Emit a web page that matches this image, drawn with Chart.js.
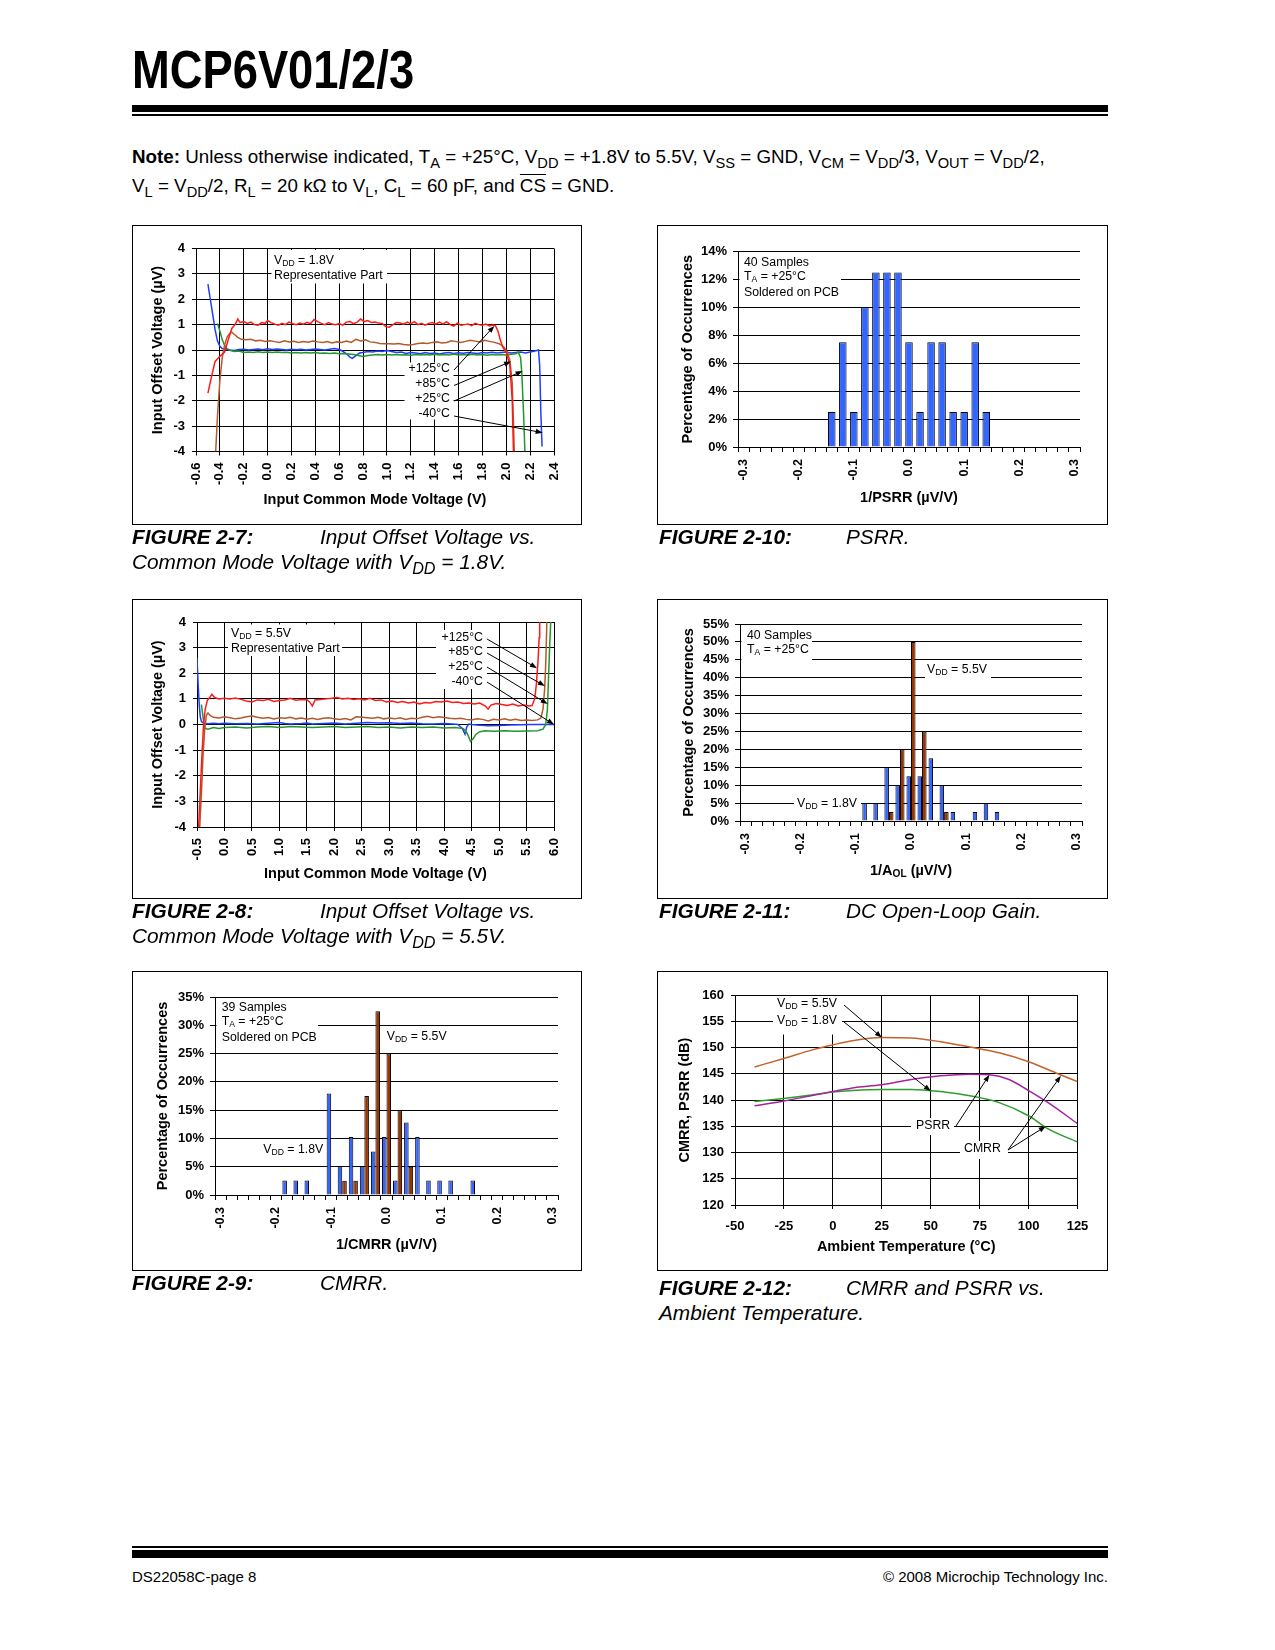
<!DOCTYPE html>
<html>
<head>
<meta charset="utf-8">
<script src="https://cdn.jsdelivr.net/npm/chart.js@4.4.1/dist/chart.umd.min.js"></script>
<style>
  body { margin: 0; background: #fff; font-family: "Liberation Sans", Arial, Helvetica, sans-serif; color: #000; }
  #page { position: relative; width: 1275px; height: 1650px; overflow: hidden; }
  .title { position: absolute; left: 132px; top: 43px; font-size: 53px; font-weight: bold; line-height: 53px; transform: scaleX(0.855); transform-origin: 0 0; white-space: nowrap; }
  .rule { position: absolute; left: 132px; width: 976px; background: #000; }
  .note { position: absolute; left: 132px; top: 142px; font-size: 18.8px; line-height: 29px; white-space: nowrap; }
  .note sub, .cap sub { font-size: 0.78em; vertical-align: -0.32em; line-height: 0; }
  .ov { text-decoration: overline; }
  .box { position: absolute; border: 1px solid #000; box-sizing: border-box; }
  .box canvas { position: absolute; left: -1px; top: -1px; }
  .cap { position: absolute; font-size: 20.8px; font-style: italic; line-height: 25px; white-space: nowrap; }
  .cap b { font-weight: bold; }
  .foot { position: absolute; top: 1568px; font-size: 15px; line-height: 18px; white-space: nowrap; }
</style>
</head>
<body>
<div id="page">
  <div class="title">MCP6V01/2/3</div>
  <div class="rule" style="top:105px;height:7px"></div>
  <div class="rule" style="top:114px;height:2px"></div>

  <div class="note"><b>Note:</b> Unless otherwise indicated, T<sub>A</sub> = +25°C, V<sub>DD</sub> = +1.8V to 5.5V, V<sub>SS</sub> = GND, V<sub>CM</sub> = V<sub>DD</sub>/3, V<sub>OUT</sub> = V<sub>DD</sub>/2,<br>V<sub>L</sub> = V<sub>DD</sub>/2, R<sub>L</sub> = 20 kΩ to V<sub>L</sub>, C<sub>L</sub> = 60 pF, and <span class="ov">CS</span> = GND.</div>

  <div class="box" style="left:132px;top:225px;width:450px;height:300px"><canvas id="fig7" width="450" height="300"></canvas></div>
  <div class="box" style="left:657px;top:225px;width:451px;height:300px"><canvas id="fig10" width="451" height="300"></canvas></div>
  <div class="box" style="left:132px;top:599px;width:450px;height:300px"><canvas id="fig8" width="450" height="300"></canvas></div>
  <div class="box" style="left:657px;top:599px;width:451px;height:300px"><canvas id="fig11" width="451" height="300"></canvas></div>
  <div class="box" style="left:132px;top:971px;width:450px;height:300px"><canvas id="fig9" width="450" height="300"></canvas></div>
  <div class="box" style="left:657px;top:971px;width:451px;height:300px"><canvas id="fig12" width="451" height="300"></canvas></div>

  <div class="cap" style="left:132px;top:524px"><b>FIGURE 2-7:</b></div>
  <div class="cap" style="left:320px;top:524px">Input Offset Voltage vs.</div>
  <div class="cap" style="left:132px;top:549px">Common Mode Voltage with V<sub>DD</sub> = 1.8V.</div>
  <div class="cap" style="left:659px;top:524px"><b>FIGURE 2-10:</b></div>
  <div class="cap" style="left:846px;top:524px">PSRR.</div>

  <div class="cap" style="left:132px;top:898px"><b>FIGURE 2-8:</b></div>
  <div class="cap" style="left:320px;top:898px">Input Offset Voltage vs.</div>
  <div class="cap" style="left:132px;top:923px">Common Mode Voltage with V<sub>DD</sub> = 5.5V.</div>
  <div class="cap" style="left:659px;top:898px"><b>FIGURE 2-11:</b></div>
  <div class="cap" style="left:846px;top:898px">DC Open-Loop Gain.</div>

  <div class="cap" style="left:132px;top:1270px"><b>FIGURE 2-9:</b></div>
  <div class="cap" style="left:320px;top:1270px">CMRR.</div>
  <div class="cap" style="left:659px;top:1275px"><b>FIGURE 2-12:</b></div>
  <div class="cap" style="left:846px;top:1275px">CMRR and PSRR vs.</div>
  <div class="cap" style="left:659px;top:1300px">Ambient Temperature.</div>

  <div class="rule" style="top:1546px;height:2px"></div>
  <div class="rule" style="top:1550px;height:8px"></div>
  <div class="foot" style="left:132px">DS22058C-page 8</div>
  <div class="foot" style="right:167px">© 2008 Microchip Technology Inc.</div>
</div>

<script>
// ---- Figure 2-7: offset vs common mode, VDD = 1.8V  [x (V), y (µV)]
const f7Red = [[-0.50,-1.70],[-0.47,-1.05],[-0.44,-0.45],[-0.40,-0.25],[-0.36,-0.08],[-0.33,0.40],[-0.30,0.85],[-0.27,1.02],[-0.25,1.22],[-0.23,1.08],
  [-0.20,1.12],[-0.17,1.05],[-0.14,1.10],[-0.11,1.00],[-0.08,0.98],[-0.05,1.08],[-0.02,1.05],[0.00,1.16],[0.03,1.08],[0.06,1.02],
  [0.09,0.98],[0.12,1.05],[0.15,1.00],[0.18,1.10],[0.21,1.04],[0.24,1.00],[0.27,1.06],[0.30,1.02],[0.33,1.09],[0.36,1.04],
  [0.39,1.20],[0.42,1.12],[0.45,1.05],[0.48,1.00],[0.51,1.08],[0.54,1.02],[0.57,1.00],[0.60,1.04],[0.63,0.98],[0.66,1.10],
  [0.69,1.12],[0.72,1.04],[0.75,1.10],[0.78,1.22],[0.81,1.12],[0.84,1.16],[0.87,1.08],[0.90,1.10],[0.93,1.06],[0.96,1.05],
  [0.99,0.92],[1.02,0.90],[1.05,1.00],[1.08,1.08],[1.11,1.06],[1.14,1.02],[1.17,1.10],[1.20,1.04],[1.23,1.12],[1.26,1.00],
  [1.29,1.05],[1.32,0.98],[1.35,1.05],[1.38,1.08],[1.41,1.02],[1.44,1.10],[1.47,1.02],[1.50,1.12],[1.53,1.00],[1.56,0.94],
  [1.59,1.06],[1.62,0.98],[1.65,1.00],[1.68,1.02],[1.71,0.96],[1.74,1.05],[1.77,1.00],[1.80,0.98],[1.83,1.02],[1.86,0.95],
  [1.89,0.98],[1.91,0.95],[1.93,0.75],[1.95,0.40],[1.97,0.12],[2.00,-0.10],[2.03,-0.60],[2.05,-2.00],[2.06,-4.00]];
const f7Brown = [[-0.435,-4.0],[-0.42,-2.6],[-0.40,-1.2],[-0.38,-0.3],[-0.36,0.2],[-0.34,0.5],[-0.32,0.64],[-0.30,0.70],[-0.28,0.62],[-0.25,0.50],
  [-0.22,0.42],[-0.18,0.40],[-0.14,0.42],[-0.10,0.36],[-0.06,0.38],[-0.02,0.34],[0.02,0.36],[0.06,0.33],[0.10,0.30],[0.14,0.36],
  [0.18,0.32],[0.22,0.34],[0.26,0.30],[0.30,0.33],[0.34,0.31],[0.38,0.35],[0.42,0.32],[0.46,0.30],[0.50,0.33],[0.54,0.28],
  [0.58,0.32],[0.62,0.30],[0.66,0.35],[0.70,0.30],[0.74,0.42],[0.78,0.36],[0.82,0.40],[0.86,0.32],[0.90,0.30],[0.94,0.26],
  [0.98,0.25],[1.02,0.25],[1.06,0.24],[1.10,0.26],[1.14,0.22],[1.18,0.20],[1.22,0.22],[1.26,0.26],[1.30,0.28],[1.34,0.26],
  [1.38,0.30],[1.42,0.32],[1.46,0.28],[1.50,0.30],[1.54,0.36],[1.58,0.33],[1.62,0.30],[1.66,0.34],[1.70,0.38],[1.74,0.35],
  [1.78,0.32],[1.82,0.38],[1.86,0.34],[1.90,0.30],[1.94,0.25],[1.98,0.12],[2.01,-0.10],[2.03,-0.40],[2.05,-1.30],[2.06,-2.80],[2.067,-4.0]];
const f7Green = [[-0.42,1.05],[-0.40,0.75],[-0.38,0.40],[-0.36,0.18],[-0.34,0.05],[-0.31,-0.02],[-0.28,-0.06],[-0.24,-0.04],[-0.20,-0.10],[-0.16,-0.08],
  [-0.12,-0.10],[-0.08,-0.07],[-0.04,-0.10],[0.00,-0.08],[0.04,-0.10],[0.08,-0.08],[0.12,-0.10],[0.16,-0.09],[0.20,-0.12],[0.24,-0.10],
  [0.28,-0.12],[0.32,-0.10],[0.36,-0.12],[0.40,-0.10],[0.44,-0.13],[0.48,-0.12],[0.52,-0.14],[0.56,-0.12],[0.60,-0.15],[0.64,-0.14],
  [0.68,-0.16],[0.72,-0.18],[0.76,-0.22],[0.80,-0.26],[0.84,-0.22],[0.88,-0.20],[0.92,-0.18],[0.96,-0.20],[1.00,-0.18],[1.04,-0.20],
  [1.08,-0.18],[1.12,-0.20],[1.16,-0.19],[1.20,-0.21],[1.24,-0.18],[1.28,-0.20],[1.32,-0.18],[1.36,-0.20],[1.40,-0.17],[1.44,-0.20],
  [1.48,-0.18],[1.52,-0.20],[1.56,-0.16],[1.60,-0.20],[1.64,-0.18],[1.68,-0.20],[1.72,-0.17],[1.76,-0.20],[1.80,-0.18],[1.84,-0.21],
  [1.88,-0.18],[1.92,-0.20],[1.96,-0.18],[2.00,-0.20],[2.04,-0.17],[2.08,-0.15],[2.10,-0.08],[2.12,-0.30],[2.13,-0.90],[2.145,-2.50],[2.156,-4.0]];
const f7Blue = [[-0.50,2.60],[-0.48,2.00],[-0.46,1.40],[-0.44,0.80],[-0.42,0.35],[-0.40,0.15],[-0.38,0.06],[-0.35,0.02],[-0.32,0.00],[-0.28,-0.02],
  [-0.24,0.02],[-0.20,0.03],[-0.16,0.00],[-0.12,0.02],[-0.08,0.04],[-0.04,0.01],[0.00,0.05],[0.04,0.02],[0.08,0.04],[0.12,0.02],
  [0.16,0.00],[0.20,0.03],[0.24,0.01],[0.28,0.03],[0.32,0.00],[0.36,0.02],[0.40,0.04],[0.44,0.02],[0.48,0.00],[0.52,0.03],
  [0.56,0.06],[0.60,0.02],[0.63,-0.05],[0.66,-0.15],[0.69,-0.28],[0.71,-0.33],[0.74,-0.22],[0.77,-0.12],[0.80,-0.10],[0.84,-0.06],
  [0.88,-0.08],[0.92,-0.04],[0.96,-0.06],[1.00,-0.02],[1.04,-0.06],[1.08,-0.10],[1.12,-0.08],[1.16,-0.14],[1.20,-0.10],[1.24,-0.12],
  [1.28,-0.15],[1.32,-0.10],[1.36,-0.14],[1.40,-0.12],[1.44,-0.16],[1.48,-0.12],[1.52,-0.10],[1.56,-0.14],[1.60,-0.11],[1.64,-0.13],
  [1.68,-0.10],[1.72,-0.12],[1.76,-0.14],[1.80,-0.10],[1.84,-0.12],[1.88,-0.09],[1.92,-0.12],[1.96,-0.10],[2.00,-0.08],[2.04,-0.12],
  [2.08,-0.10],[2.12,-0.08],[2.16,-0.12],[2.20,-0.08],[2.24,-0.04],[2.27,0.00],[2.28,-0.60],[2.29,-2.50],[2.30,-3.80]];

// ---- Figure 2-8: offset vs common mode, VDD = 5.5V
const f8Red = [[-0.47,-4.0],[-0.44,-2.6],[-0.41,-1.2],[-0.38,0.0],[-0.35,0.6],[-0.31,0.95],[-0.27,1.05],[-0.23,1.18],[-0.18,1.05],[-0.10,1.00],
  [0.00,1.02],[0.10,1.00],[0.20,1.03],[0.30,0.98],[0.40,0.92],[0.50,0.88],[0.60,0.96],[0.70,0.94],[0.80,0.98],[0.90,0.90],
  [1.00,0.94],[1.10,0.96],[1.20,1.02],[1.30,0.95],[1.40,0.98],[1.50,0.97],[1.55,0.88],[1.60,0.72],[1.65,0.96],[1.75,0.98],
  [1.85,1.00],[1.95,1.02],[2.05,1.05],[2.15,1.00],[2.25,1.02],[2.35,0.98],[2.45,1.00],[2.55,0.96],[2.65,1.02],[2.75,0.94],
  [2.85,0.96],[2.95,0.88],[3.05,0.92],[3.15,0.86],[3.25,0.90],[3.35,0.84],[3.45,0.88],[3.55,0.80],[3.65,0.86],[3.75,0.84],
  [3.85,0.90],[3.95,0.88],[4.05,0.92],[4.15,0.86],[4.25,0.88],[4.35,0.82],[4.45,0.84],[4.55,0.80],[4.65,0.84],[4.75,0.72],
  [4.80,0.60],[4.85,0.76],[4.95,0.82],[5.05,0.78],[5.15,0.74],[5.25,0.80],[5.35,0.72],[5.45,0.76],[5.55,0.72],[5.60,0.74],
  [5.65,1.00],[5.68,1.60],[5.71,2.50],[5.73,3.40],[5.74,4.0]];
const f8Brown = [[-0.45,-4.0],[-0.42,-2.7],[-0.39,-1.2],[-0.36,-0.2],[-0.33,0.35],[-0.30,0.45],[-0.26,0.35],[-0.20,0.28],[-0.10,0.25],[0.00,0.30],
  [0.10,0.26],[0.20,0.22],[0.30,0.25],[0.40,0.30],[0.50,0.33],[0.60,0.28],[0.70,0.24],[0.80,0.27],[0.90,0.22],[1.00,0.26],
  [1.10,0.24],[1.20,0.28],[1.30,0.22],[1.40,0.25],[1.50,0.21],[1.60,0.24],[1.70,0.20],[1.80,0.24],[1.90,0.26],[2.00,0.22],
  [2.10,0.20],[2.20,0.23],[2.30,0.18],[2.40,0.30],[2.50,0.28],[2.60,0.26],[2.70,0.24],[2.80,0.28],[2.90,0.22],[3.00,0.25],
  [3.10,0.22],[3.20,0.26],[3.30,0.20],[3.40,0.24],[3.50,0.22],[3.60,0.28],[3.70,0.32],[3.80,0.26],[3.90,0.30],[4.00,0.27],
  [4.10,0.24],[4.20,0.22],[4.30,0.24],[4.40,0.20],[4.50,0.18],[4.60,0.22],[4.70,0.20],[4.80,0.14],[4.90,0.20],[5.00,0.18],
  [5.10,0.22],[5.20,0.17],[5.30,0.20],[5.40,0.16],[5.50,0.18],[5.60,0.16],[5.70,0.18],[5.76,0.25],[5.80,0.60],[5.83,1.40],
  [5.85,2.40],[5.87,4.0]];
const f8Green = [[-0.42,0.78],[-0.39,0.30],[-0.37,0.00],[-0.35,-0.15],[-0.30,-0.18],[-0.20,-0.12],[-0.10,-0.16],[0.00,-0.12],[0.20,-0.10],[0.40,-0.14],
  [0.60,-0.10],[0.80,-0.08],[1.00,-0.12],[1.20,-0.08],[1.40,-0.10],[1.60,-0.12],[1.80,-0.10],[2.00,-0.08],[2.20,-0.12],[2.40,-0.10],
  [2.60,-0.08],[2.80,-0.12],[3.00,-0.10],[3.20,-0.14],[3.40,-0.10],[3.60,-0.12],[3.80,-0.10],[4.00,-0.14],[4.20,-0.12],[4.35,-0.16],
  [4.42,-0.35],[4.48,-0.66],[4.53,-0.55],[4.58,-0.38],[4.65,-0.28],[4.75,-0.24],[4.90,-0.26],[5.10,-0.24],[5.30,-0.26],[5.50,-0.25],
  [5.70,-0.24],[5.80,-0.18],[5.85,0.00],[5.88,0.60],[5.90,1.80],[5.92,3.00],[5.94,4.0]];
const f8Blue = [[-0.50,2.60],[-0.48,1.60],[-0.46,0.80],[-0.44,0.30],[-0.42,0.12],[-0.38,0.05],[-0.30,0.03],[-0.20,0.05],[-0.10,0.03],[0.00,0.05],
  [0.20,0.03],[0.40,0.04],[0.60,0.02],[0.80,0.05],[1.00,0.08],[1.10,0.04],[1.20,0.02],[1.40,0.04],[1.50,0.06],[1.60,0.02],
  [1.80,0.04],[2.00,0.06],[2.20,0.02],[2.40,0.05],[2.60,0.08],[2.80,0.06],[3.00,0.07],[3.20,0.04],[3.40,0.06],[3.60,0.03],
  [3.80,0.02],[4.00,0.04],[4.15,0.02],[4.25,0.00],[4.33,-0.15],[4.38,-0.38],[4.41,-0.10],[4.45,0.02],[4.50,0.00],[4.60,-0.02],
  [4.80,-0.05],[5.00,-0.04],[5.20,-0.02],[5.40,-0.01],[5.60,0.00],[5.80,0.00],[6.00,0.00]];

// ---- Histograms: bin centres (µV/V) and tick labels
const binCenters = [-0.30,-0.28,-0.26,-0.24,-0.22,-0.20,-0.18,-0.16,-0.14,-0.12,-0.10,-0.08,-0.06,-0.04,-0.02,0.00,
  0.02,0.04,0.06,0.08,0.10,0.12,0.14,0.16,0.18,0.20,0.22,0.24,0.26,0.28,0.30];
const histTickLabels = ['-0.3', '-0.2', '-0.1', '0.0', '0.1', '0.2', '0.3'];

// Figure 2-10 PSRR (40 samples)
const psrrBins = [-0.14,-0.12,-0.10,-0.08,-0.06,-0.04,-0.02,0.00,0.02,0.04,0.06,0.08,0.10,0.12,0.14];
const psrrPct  = [2.5, 7.5, 2.5, 10, 12.5, 12.5, 12.5, 7.5, 2.5, 7.5, 7.5, 2.5, 2.5, 7.5, 2.5];

// Figure 2-11 DC open-loop gain
const aolBins18 = [-0.08,-0.06,-0.04,-0.02,0.00,0.02,0.04,0.06,0.08,0.12,0.14,0.16];
const aolPct18  = [5, 5, 15, 10, 12.5, 12.5, 17.5, 10, 2.5, 2.5, 5, 2.5];
const aolBins55 = [-0.04,-0.02,0.00,0.02,0.06];
const aolPct55  = [2.5, 20, 50, 25, 2.5];

// Figure 2-9 CMRR
const cmrrBins18 = [-0.18,-0.16,-0.14,-0.10,-0.08,-0.06,-0.04,-0.02,0.00,0.02,0.04,0.06,0.08,0.10,0.12,0.16];
const cmrrPct18  = [2.56, 2.56, 2.56, 17.95, 5.13, 10.26, 5.13, 7.69, 10.26, 2.56, 12.82, 10.26, 2.56, 2.56, 2.56, 2.56];
const cmrrBins55 = [-0.08,-0.06,-0.04,-0.02,0.00,0.02,0.04];
const cmrrPct55  = [2.5, 2.5, 17.5, 32.5, 25, 15, 5];

// ---- Figure 2-12: CMRR / PSRR vs temperature [°C, dB]
const cmrr55Temp = [[-40,146.3],[-25,147.9],[-10,149.6],[0,150.5],[10,151.3],[25,151.9],[40,151.8],[55,151.1],[70,150.1],[85,149.0],[100,147.3],[115,145.0],[125,143.5]];
const psrrTemp   = [[-40,138.9],[-25,139.8],[-10,140.9],[0,141.6],[10,142.3],[25,142.9],[40,143.9],[55,144.6],[70,144.9],[80,144.8],[90,143.9],[100,141.8],[110,139.5],[125,135.5]];
const cmrr18Temp = [[-40,139.7],[-25,140.3],[-10,141.0],[0,141.5],[10,141.8],[25,142.0],[40,142.0],[55,141.6],[70,140.8],[85,139.5],[100,137.0],[110,134.5],[125,132.0]];

// ---------------------------------------------------------------------------
const FONT = '"Liberation Sans", Arial, Helvetica, sans-serif';
Chart.defaults.font.family = FONT;
Chart.defaults.color = '#000';
Chart.defaults.animation = false;
Chart.defaults.events = [];
Chart.defaults.plugins.legend.display = false;
Chart.defaults.plugins.tooltip.enabled = false;

const TICK = { size: 13, weight: 'bold' };
const AXT = { size: 14.5, weight: 'bold' };
const RED = '#ff1a1a', BROWN = '#b3592b', GREEN = '#22962a', BLUE = '#1f3dff';
const BAR_BLUE = '#3366ff', BAR_BROWN = '#993300';

const toXY = arr => arr.map(p => ({ x: p[0], y: p[1] }));
const fmt1 = v => (Math.abs(v) < 1e-9 ? 0 : v).toFixed(1);
const binData = (bins, pct) => binCenters.map(c => {
  const i = bins.findIndex(b => Math.abs(b - c) < 1e-6);
  return i >= 0 ? pct[i] : null;
});

// plot area placement inside each box: l/t/r/b edges, y-title centre x, x-title centre y
function frame(p) {
  const lh = AXT.size * 1.2;
  const padBottom = p.h - p.xt - lh / 2;
  return {
    layout: { padding: { left: 0, top: p.t, right: p.w - p.r, bottom: padBottom } },
    xFit: s => { s.height = p.h - padBottom - p.b; },
    yFit: s => { s.width = p.l; },
    yTitlePad: { top: p.yt - lh / 2, bottom: 0 }
  };
}

// text with _{sub} parts; align 'left' | 'right' | 'center'
function richText(ctx, str, x, y, align, size, bold) {
  const parts = str.split(/_\{([^}]*)\}/);
  size = size || 12;
  const w8 = bold ? 'bold ' : '';
  const main = w8 + size + 'px ' + FONT, sub = w8 + (size * 0.7) + 'px ' + FONT;
  let w = 0;
  parts.forEach((s, i) => { ctx.font = i % 2 ? sub : main; w += ctx.measureText(s).width; });
  let cx = align === 'right' ? x - w : align === 'center' ? x - w / 2 : x;
  ctx.textAlign = 'left';
  ctx.textBaseline = 'middle';
  ctx.fillStyle = '#000';
  parts.forEach((s, i) => {
    ctx.font = i % 2 ? sub : main;
    ctx.fillText(s, cx, i % 2 ? y + size * 0.25 : y);
    cx += ctx.measureText(s).width;
  });
}

function arrow(ctx, x1, y1, x2, y2) {
  const a = Math.atan2(y2 - y1, x2 - x1), L = 7, W = 2.6;
  ctx.strokeStyle = '#000';
  ctx.lineWidth = 1;
  ctx.beginPath();
  ctx.moveTo(x1, y1);
  ctx.lineTo(x2 - L * 0.8 * Math.cos(a), y2 - L * 0.8 * Math.sin(a));
  ctx.stroke();
  ctx.beginPath();
  ctx.moveTo(x2, y2);
  ctx.lineTo(x2 - L * Math.cos(a) + W * Math.sin(a), y2 - L * Math.sin(a) - W * Math.cos(a));
  ctx.lineTo(x2 - L * Math.cos(a) - W * Math.sin(a), y2 - L * Math.sin(a) + W * Math.cos(a));
  ctx.closePath();
  ctx.fillStyle = '#000';
  ctx.fill();
}

// white label boxes go under the data, text and arrows on top
const notesPlugin = {
  id: 'notes',
  beforeDatasetsDraw(chart, args, opts) {
    const ctx = chart.ctx;
    ctx.save();
    ctx.fillStyle = '#fff';
    (opts.boxes || []).forEach(b => ctx.fillRect(b[0], b[1], b[2] - b[0], b[3] - b[1]));
    ctx.restore();
  },
  afterDatasetsDraw(chart, args, opts) {
    const ctx = chart.ctx, xs = chart.scales.x, ys = chart.scales.y;
    ctx.save();
    (opts.texts || []).forEach(t => richText(ctx, t[0], t[1], t[2], t[3], 12.3));
    (opts.arrows || []).forEach(a => arrow(ctx, a[0], a[1], xs.getPixelForValue(a[2]), ys.getPixelForValue(a[3])));
    if (opts.xTitle) {
      const ca = chart.chartArea;
      richText(ctx, opts.xTitle[0], (ca.left + ca.right) / 2, opts.xTitle[1], 'center', AXT.size, true);
    }
    ctx.restore();
  }
};

function lineChart(id, p, datasets, xo, yo, notes) {
  const f = frame(p);
  return new Chart(document.getElementById(id), {
    type: 'scatter',
    data: { datasets: datasets.map(d => Object.assign({ showLine: true, pointRadius: 0, borderWidth: 1.5, fill: false }, d)) },
    options: {
      responsive: false,
      layout: f.layout,
      scales: {
        x: {
          type: 'linear', min: xo.min, max: xo.max, afterFit: f.xFit,
          ticks: Object.assign({ stepSize: xo.step, autoSkip: false, font: TICK, callback: xo.fmt }, xo.ticks),
          grid: { color: '#000', lineWidth: 1, tickLength: 4 },
          border: { color: '#000' },
          title: { display: true, text: xo.title, font: AXT, padding: { top: 0, bottom: 0 } }
        },
        y: {
          min: yo.min, max: yo.max, afterFit: f.yFit,
          ticks: { stepSize: yo.step, autoSkip: false, padding: 7, font: TICK },
          grid: { color: '#000', lineWidth: 1, tickLength: 4 },
          border: { color: '#000' },
          title: { display: true, text: yo.title, font: AXT, padding: f.yTitlePad }
        }
      },
      plugins: { notes: notes }
    },
    plugins: [notesPlugin]
  });
}

function histChart(id, p, datasets, ymax, ystep, xtitle, notes) {
  const f = frame(p);
  const richTitle = xtitle.indexOf('_{') >= 0;
  if (richTitle) notes.xTitle = [xtitle, p.xt];
  return new Chart(document.getElementById(id), {
    type: 'bar',
    data: { labels: binCenters, datasets: datasets },
    options: {
      responsive: false,
      layout: f.layout,
      scales: {
        x: {
          afterFit: f.xFit,
          ticks: { autoSkip: false, minRotation: 90, maxRotation: 90, padding: 7, font: { size: 12.5, weight: 'bold' },
            callback: (v, i) => (i % 5 === 0 ? histTickLabels[i / 5] : '') },
          grid: { drawOnChartArea: false, color: '#000', tickLength: 5, offset: true },
          border: { color: '#000' },
          title: { display: !richTitle, text: xtitle, font: AXT, padding: { top: 0, bottom: 0 } }
        },
        y: {
          min: 0, max: ymax, afterFit: f.yFit,
          ticks: { stepSize: ystep, autoSkip: false, padding: 6, font: TICK, callback: v => v + '%' },
          grid: { color: '#000', lineWidth: 1, tickLength: 5 },
          border: { color: '#000' },
          title: { display: true, text: 'Percentage of Occurrences', font: AXT, padding: f.yTitlePad }
        }
      },
      plugins: { notes: notes }
    },
    plugins: [notesPlugin]
  });
}

// ---- Figure 2-7
lineChart('fig7', { w: 450, h: 300, l: 64, t: 23.5, r: 422, b: 226.5, yt: 26, xt: 275 },
  [
    { data: toXY(f7Red), borderColor: RED },
    { data: toXY(f7Brown), borderColor: BROWN },
    { data: toXY(f7Green), borderColor: GREEN },
    { data: toXY(f7Blue), borderColor: BLUE }
  ],
  { min: -0.6, max: 2.4, step: 0.2, fmt: fmt1, title: 'Input Common Mode Voltage (V)',
    ticks: { minRotation: 90, maxRotation: 90, padding: 7 } },
  { min: -4, max: 4, step: 1, title: 'Input Offset Voltage (µV)' },
  {
    boxes: [[139.5, 25, 255, 58.5], [272.5, 137.5, 321.5, 194.5]],
    texts: [['V_{DD} = 1.8V', 142, 36], ['Representative Part', 142, 51],
      ['+125°C', 318, 144, 'right'], ['+85°C', 318, 159, 'right'], ['+25°C', 318, 174, 'right'], ['-40°C', 318, 189, 'right']],
    arrows: [[322, 145, 1.90, 0.95], [322, 160.5, 2.04, -0.45], [322, 176, 2.137, -0.83], [322, 191, 2.305, -3.26]]
  });

// ---- Figure 2-8
lineChart('fig8', { w: 450, h: 300, l: 65, t: 23, r: 422, b: 228, yt: 26, xt: 275 },
  [
    { data: toXY(f8Red), borderColor: RED },
    { data: toXY(f8Brown), borderColor: BROWN },
    { data: toXY(f8Green), borderColor: GREEN },
    { data: toXY(f8Blue), borderColor: BLUE }
  ],
  { min: -0.5, max: 6.0, step: 0.5, fmt: fmt1, title: 'Input Common Mode Voltage (V)',
    ticks: { minRotation: 90, maxRotation: 90, padding: 7 } },
  { min: -4, max: 4, step: 1, title: 'Input Offset Voltage (µV)' },
  {
    boxes: [[96, 25.5, 210, 57], [304, 31, 355, 90]],
    texts: [['V_{DD} = 5.5V', 99, 35], ['Representative Part', 99, 50],
      ['+125°C', 351, 39, 'right'], ['+85°C', 351, 53, 'right'], ['+25°C', 351, 68, 'right'], ['-40°C', 351, 83, 'right']],
    arrows: [[355, 40, 5.69, 2.2], [355, 54, 5.835, 1.5], [355, 68, 5.885, 0.8], [355, 83, 6.0, 0]]
  });

// ---- Figure 2-10
histChart('fig10', { w: 451, h: 300, l: 81, t: 26.5, r: 423, b: 222, yt: 31, xt: 273 },
  [{ data: binData(psrrBins, psrrPct), backgroundColor: BAR_BLUE, borderColor: '#000', borderWidth: 1,
     barPercentage: 0.68, categoryPercentage: 1 }],
  14, 2, '1/PSRR (µV/V)',
  {
    boxes: [[82.5, 30, 184, 74.5]],
    texts: [['40 Samples', 87, 37.5], ['T_{A} = +25°C', 87, 52], ['Soldered on PCB', 87, 67.5]]
  });

// ---- Figure 2-11
histChart('fig11', { w: 451, h: 300, l: 83, t: 25, r: 425, b: 222, yt: 32, xt: 271.6 },
  [
    { data: binData(aolBins18, aolPct18), backgroundColor: BAR_BLUE, borderColor: '#000', borderWidth: 1,
      barPercentage: 1, categoryPercentage: 0.82 },
    { data: binData(aolBins55, aolPct55), backgroundColor: BAR_BROWN, borderColor: '#000', borderWidth: 1,
      barPercentage: 1, categoryPercentage: 0.82 }
  ],
  55, 5, '1/A_{OL} (µV/V)',
  {
    boxes: [[84.5, 29, 155, 64], [268, 64, 334, 81.5], [137, 197, 204, 212]],
    texts: [['40 Samples', 90, 36.7], ['T_{A} = +25°C', 90, 50.7], ['V_{DD} = 5.5V', 270, 70.7], ['V_{DD} = 1.8V', 140, 204.7]]
  });

// ---- Figure 2-9
histChart('fig9', { w: 450, h: 300, l: 83, t: 26, r: 426, b: 224, yt: 31, xt: 273.5 },
  [
    { data: binData(cmrrBins18, cmrrPct18), backgroundColor: BAR_BLUE, borderColor: '#000', borderWidth: 1,
      barPercentage: 1, categoryPercentage: 0.82 },
    { data: binData(cmrrBins55, cmrrPct55), backgroundColor: BAR_BROWN, borderColor: '#000', borderWidth: 1,
      barPercentage: 1, categoryPercentage: 0.82 }
  ],
  35, 5, '1/CMRR (µV/V)',
  {
    boxes: [[84.5, 28.5, 186, 73.5]],
    texts: [['39 Samples', 89.7, 37], ['T_{A} = +25°C', 89.7, 50.5], ['Soldered on PCB', 89.7, 67],
      ['V_{DD} = 5.5V', 254.7, 65.5], ['V_{DD} = 1.8V', 131.3, 178.2]]
  });

// ---- Figure 2-12
lineChart('fig12', { w: 451, h: 300, l: 78, t: 24, r: 420.5, b: 234, yt: 28, xt: 276 },
  [
    { data: toXY(cmrr55Temp), borderColor: '#c4622a', cubicInterpolationMode: 'monotone' },
    { data: toXY(psrrTemp), borderColor: '#a3239f', cubicInterpolationMode: 'monotone' },
    { data: toXY(cmrr18Temp), borderColor: '#2e9d2e', cubicInterpolationMode: 'monotone' }
  ],
  { min: -50, max: 125, step: 25, fmt: v => String(v), title: 'Ambient Temperature (°C)',
    ticks: { maxRotation: 0, padding: 10 } },
  { min: 120, max: 160, step: 5, title: 'CMRR, PSRR (dB)' },
  {
    boxes: [[116, 25, 185, 63.5], [254, 147, 297, 164], [303, 170, 351, 188]],
    texts: [['V_{DD} = 5.5V', 120, 32.5], ['V_{DD} = 1.8V', 120, 49.5], ['PSRR', 259, 155], ['CMRR', 307, 177.5]],
    arrows: [[187, 34, 25, 151.9], [187, 51, 50, 141.7], [299, 155, 80, 144.8],
      [351, 179, 116.5, 144.6], [351, 179, 108.8, 135.0]]
  });
</script>
</body>
</html>
